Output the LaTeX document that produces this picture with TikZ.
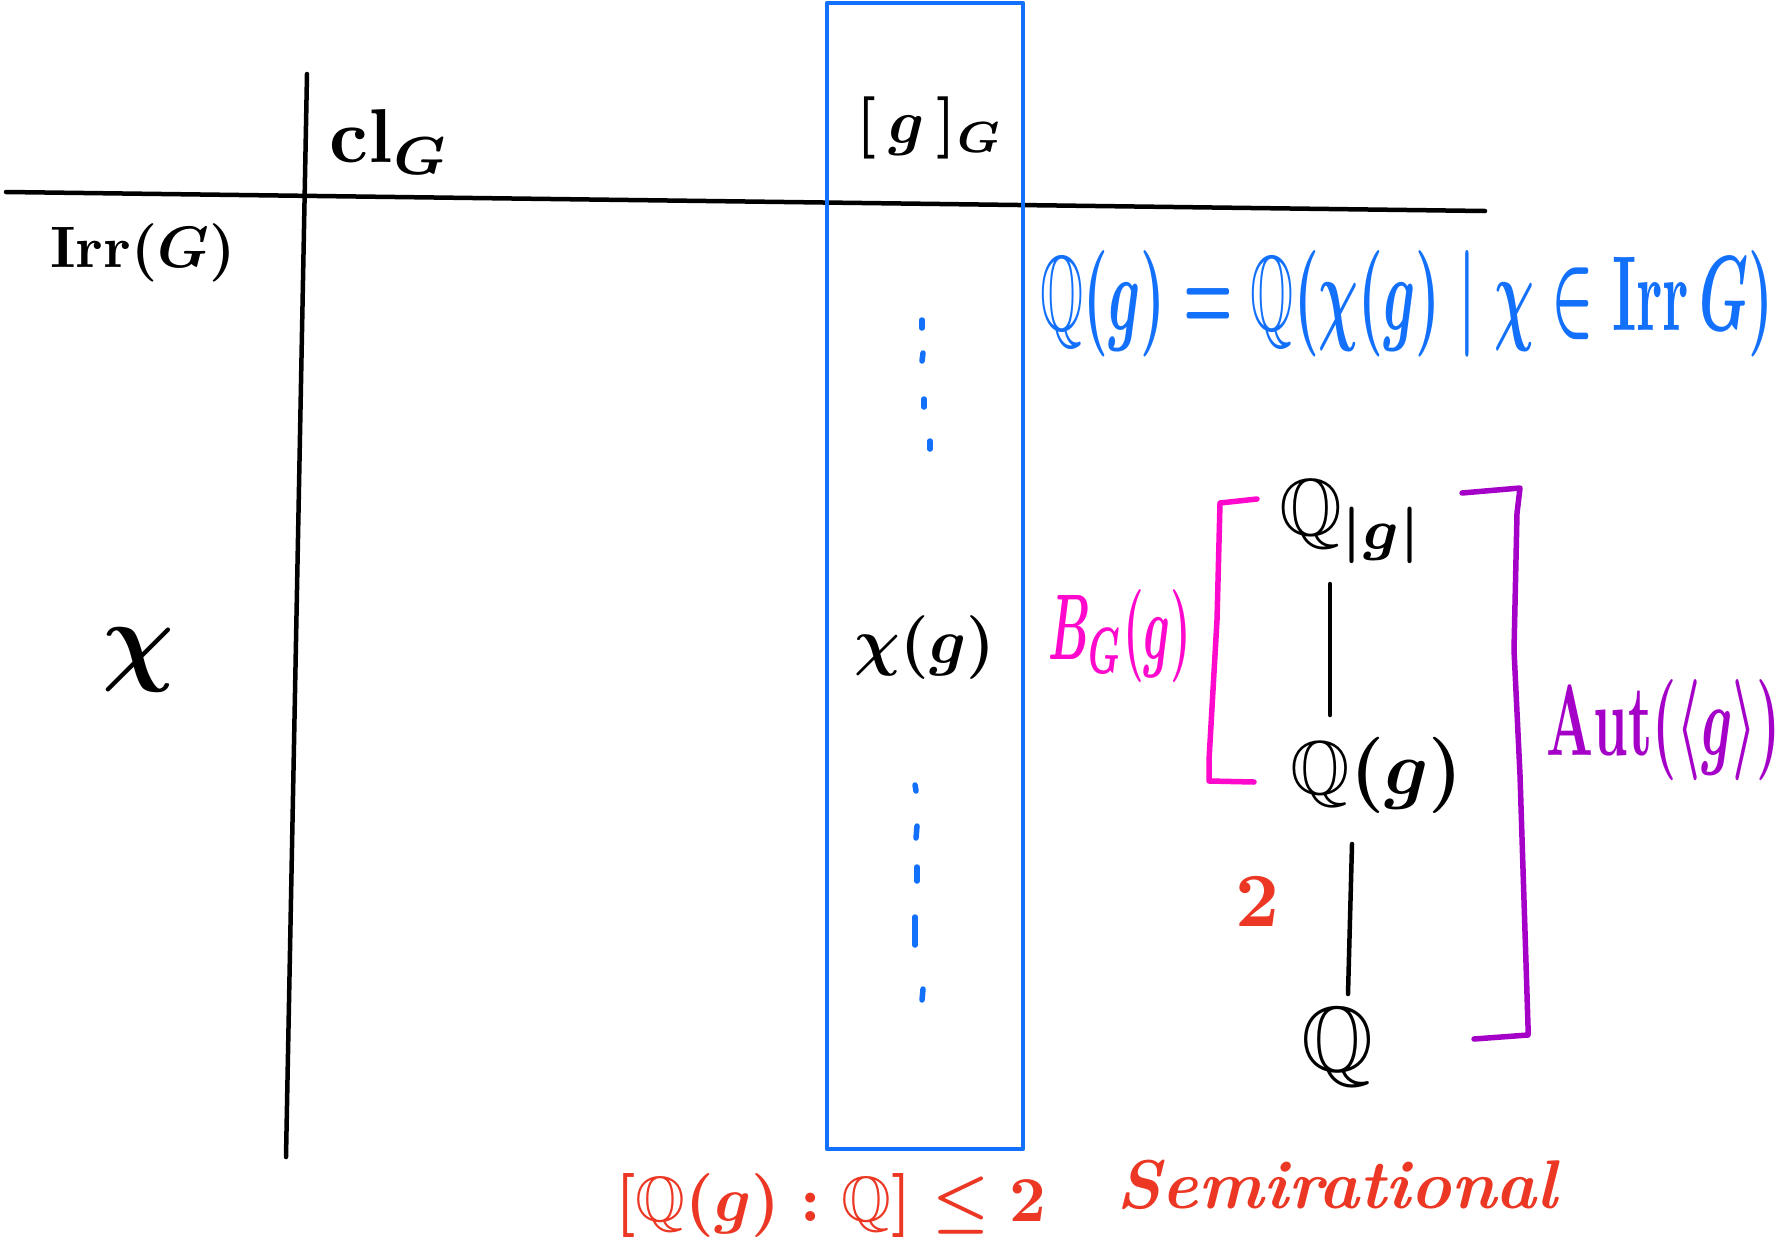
\documentclass[tikz,border=0pt]{standalone}
\usepackage{amssymb}
\usepackage{graphicx}
\definecolor{hblue}{RGB}{18,112,250}
\definecolor{hmag}{RGB}{255,10,205}
\definecolor{hpur}{RGB}{165,0,200}
\definecolor{hred}{RGB}{235,55,35}
\newcommand{\fitw}[2]{\resizebox{#1pt}{!}{#2}}
\newcommand{\fitwh}[3]{\resizebox{#1pt}{#2pt}{#3}}
\begin{document}
\begin{tikzpicture}[x=1pt,y=-1pt,
  ink/.style={line width=4.5pt,line cap=round,line join=round,black},
  blueline/.style={line width=4.5pt,line join=round,hblue},
  dotline/.style={line width=5.5pt,line cap=round,hblue},
  magline/.style={line width=5.5pt,line cap=round,line join=round,hmag},
  purline/.style={line width=5.5pt,line cap=round,line join=round,hpur},
  txt/.style={inner sep=0pt,outer sep=0pt,font=\boldmath}]
\useasboundingbox (0,0) rectangle (1788,1256);
\fill[white] (0,0) rectangle (1788,1256);
% table lines
\draw[ink] (6,192) -- (1485,211);
\draw[ink] (307,74) -- (286,1157);
% blue column
\draw[blueline] (827,3) rectangle (1023,1149);
% headers
\node[txt] (clG) at (390,142) {\fitw{120}{$\mathrm{cl}_G$}};
\node[txt] (irr) at (143,253) {\fitw{185}{$\mathrm{Irr}(G)$}};
\node[txt] (gG) at (930,128) {\fitw{146}{$[\,g\,]_G$}};
\node[txt] (chi) at (139,660) {\fitw{72}{$\chi$}};
\node[txt] (chig) at (925,648) {\fitw{140}{$\chi(g)$}};
% blue dots
\draw[dotline] (922,320) -- (922,328);
\draw[dotline] (923,353) -- (922,361);
\draw[dotline] (924,399) -- (924,407);
\draw[dotline] (930,441) -- (930,449);
\draw[dotline] (915,785) -- (916,791);
\draw[dotline] (917,826) -- (916,838);
\draw[dotline] (917,867) -- (917,881);
\draw[dotline] (915,917) -- (915,945);
\draw[dotline] (923,989) -- (922,1000);
% blue equation
\node[txt,text=hblue] (eq) at (1407,304) {\fitwh{733}{80}{$\mathbb{Q}(g)=\mathbb{Q}(\chi(g)\mid\chi\in\mathrm{Irr}\,G)$}};
% magenta
\node[txt,text=hmag] (bg) at (1120,636) {\fitwh{143}{70}{$B_G(g)$}};
\draw[magline] (1257,499) -- (1220,503) -- (1217,620) -- (1209,760) -- (1209,781) -- (1254,782);
% field tower
\node[txt] (q1) at (1352,522) {\fitw{146}{$\mathbb{Q}_{|g|}$}};
\node[txt] (qg) at (1377,775) {\fitw{172}{$\mathbb{Q}(g)$}};
\node[txt] (q) at (1338,1047) {\fitw{72}{$\mathbb{Q}$}};
\coordinate (l1a) at (1330,584);
\coordinate (l1b) at (1330,715);
\coordinate (l2a) at (1352,844);
\coordinate (l2b) at (1348,994);
\draw[ink] (l1a) -- (l1b);
\draw[ink] (l2a) -- (l2b);
\node[txt,text=hred] (two) at (1257,902) {\fitw{44}{$\mathbf{2}$}};
% purple
\draw[purline] (1462,493) -- (1520,488) -- (1517,513) -- (1514,650) -- (1520,775) -- (1528,1026) -- (1528,1035) -- (1474,1039);
\node[txt,text=hpur] (aut) at (1664,730) {\fitwh{234}{76}{$\mathrm{Aut}(\langle g\rangle)$}};
% bottom red
\node[txt,text=hred] (idx) at (831,1205) {\fitw{431}{$[\mathbb{Q}(g):\mathbb{Q}]\le 2$}};
\node[txt,text=hred] (semi) at (1337,1185) {\fitw{440}{\bfseries\itshape Semirational}};
\end{tikzpicture}
\end{document}
